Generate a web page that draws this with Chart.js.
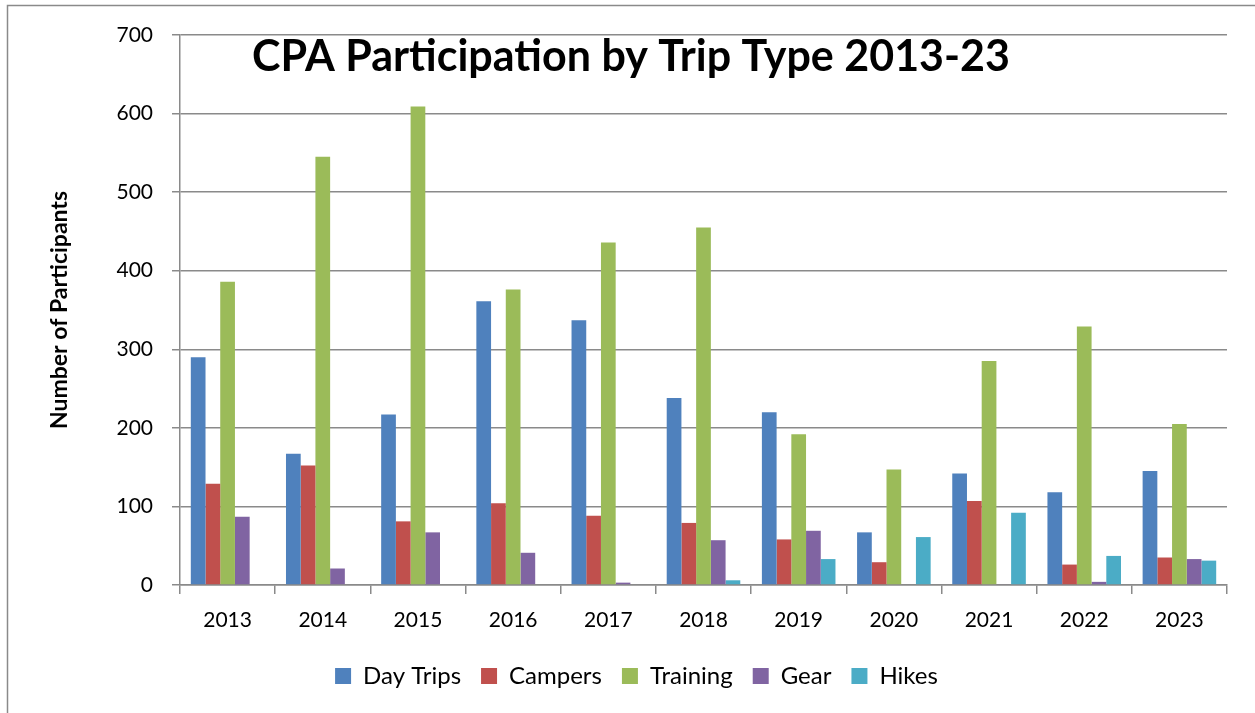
<!DOCTYPE html>
<html>
<head>
<meta charset="utf-8">
<script src="https://cdn.jsdelivr.net/npm/chart.js@4.4.1/dist/chart.umd.min.js"></script>
<style>
  html, body { margin: 0; padding: 0; background: #fff; }
  #wrap { position: relative; width: 1255px; height: 713px; }
</style>
</head>
<body>
<div id="wrap"><canvas id="c" width="1255" height="713"></canvas></div>
<script>
const categories = ['2013','2014','2015','2016','2017','2018','2019','2020','2021','2022','2023'];
const dayTrips = [290, 167, 217, 361, 337, 238, 220, 67, 142, 118, 145];
const campers  = [129, 152, 81, 104, 88, 79, 58, 29, 107, 26, 35];
const training = [386, 545, 609, 376, 436, 455, 192, 147, 285, 329, 205];
const gear     = [87, 21, 67, 41, 3, 57, 69, null, 1, 4, 33];
const hikes    = [null, null, null, null, null, 6, 33, 61, 92, 37, 31];
const seriesNames = ['Day Trips', 'Campers', 'Training', 'Gear', 'Hikes'];
const yTicks = [0, 100, 200, 300, 400, 500, 600, 700];
const titleText = 'CPA Participation by Trip Type 2013-23';
const yTitle = 'Number of Participants';

const colors = ['#4F81BD', '#C0504D', '#9BBB59', '#8064A2', '#4BACC6'];
const FONT = 'Lato, "Open Sans", sans-serif';

const overlay = {
  id: 'overlay',
  afterDraw(chart) {
    const ctx = chart.ctx;
    ctx.save();
    ctx.strokeStyle = '#8a8a8a';
    ctx.lineWidth = 1.5;
    ctx.beginPath();
    ctx.moveTo(7.5, 713);
    ctx.lineTo(7.5, 5.5);
    ctx.lineTo(1255, 5.5);
    ctx.stroke();
    ctx.fillStyle = '#000';
    ctx.font = 'bold 43px ' + FONT;
    ctx.textAlign = 'center';
    ctx.textBaseline = 'middle';
    ctx.fillText(titleText, 631, 57);
    ctx.restore();
  }
};

new Chart(document.getElementById('c'), {
  type: 'bar',
  data: {
    labels: categories,
    datasets: [dayTrips, campers, training, gear, hikes].map((d, i) => ({
      label: seriesNames[i],
      data: d,
      backgroundColor: colors[i],
      borderWidth: 0,
      categoryPercentage: 0.773,
      barPercentage: 1.0
    }))
  },
  options: {
    responsive: false,
    animation: false,
    layout: { padding: { top: 35, right: 28, bottom: 15, left: 46 } },
    plugins: {
      legend: {
        position: 'bottom',
        labels: {
          font: { family: FONT, size: 24 },
          color: '#000',
          boxWidth: 16,
          boxHeight: 16,
          padding: 20
        }
      },
      title: { display: false },
      tooltip: { enabled: false }
    },
    scales: {
      x: {
        grid: { display: true, drawOnChartArea: false, drawTicks: true, tickLength: 9, color: '#8a8a8a', lineWidth: 1.5, offset: true },
        border: { display: true, color: '#8a8a8a', width: 1.5 },
        ticks: { font: { family: FONT, size: 21 }, color: '#000', padding: 14, maxRotation: 0 },
        afterFit(scale) { scale.height = 59; }
      },
      y: {
        min: 0,
        max: 700,
        afterBuildTicks(scale) { scale.ticks = yTicks.map(v => ({ value: v })); },
        grid: { color: '#8a8a8a', lineWidth: 1.5, tickLength: 8 },
        border: { display: true, color: '#8a8a8a', width: 1.5 },
        ticks: { font: { family: FONT, size: 21 }, color: '#000', padding: 19 },
        title: {
          display: true,
          text: yTitle,
          font: { family: FONT, size: 23, weight: 'bold' },
          color: '#000',
          padding: { top: 0, bottom: 0 }
        },
        afterFit(scale) { scale.width = 134; }
      }
    }
  },
  plugins: [overlay]
});
</script>
</body>
</html>
